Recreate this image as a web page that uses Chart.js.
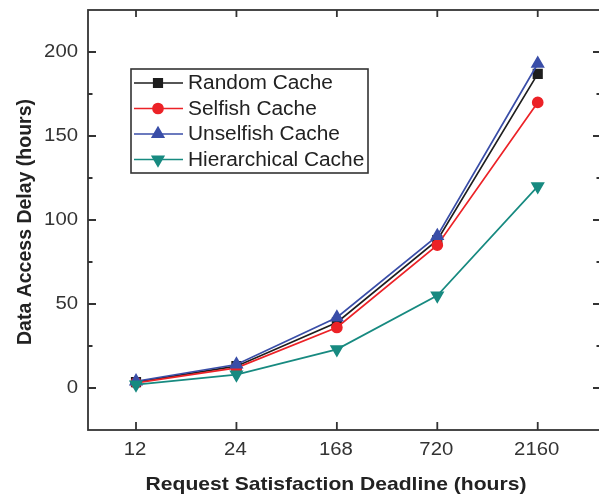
<!DOCTYPE html>
<html><head><meta charset="utf-8">
<script src="https://cdn.jsdelivr.net/npm/chart.js@4.4.1/dist/chart.umd.min.js"></script>
<style>
html,body{margin:0;padding:0;background:#fff;overflow:hidden;width:599px;height:498px}
canvas{display:block}
</style>
</head><body>
<canvas id="c" width="610" height="498"></canvas>
<script>
// Request satisfaction deadlines (hours) and measured access delay per caching scheme
const deadlines = ['12', '24', '168', '720', '2160'];
const randomCache = [3.5, 13, 39, 88, 187];
const selfishCache = [3, 12, 36, 85, 170];
const unselfishCache = [4, 14, 42, 90.5, 193];
const hierarchicalCache = [2, 8, 23, 55, 120];
const seriesNames = ['Random Cache', 'Selfish Cache', 'Unselfish Cache', 'Hierarchical Cache'];
const yTicks = [0, 50, 100, 150, 200];
const yMinorTicks = [25, 75, 125, 175];

const styles = [
  { color: '#1e1e1e', point: 'rect', radius: 6, rot: 0 },
  { color: '#ec2227', point: 'circle', radius: 5, rot: 0 },
  { color: '#3a4ea8', point: 'triangle', radius: 6.5, rot: 0 },
  { color: '#178a80', point: 'triangle', radius: 6.5, rot: 180 }
];
const values = [randomCache, selfishCache, unselfishCache, hierarchicalCache];

function stretchedText(ctx, text, x, y, sx, align, baseline) {
  ctx.save();
  ctx.translate(x, y);
  ctx.scale(sx, 1);
  ctx.textAlign = align;
  ctx.textBaseline = baseline;
  ctx.fillText(text, 0, 0);
  ctx.restore();
}

const frameAndText = {
  id: 'frameAndText',
  afterDraw(chart) {
    const ctx = chart.ctx;
    const a = chart.chartArea;
    const xs = chart.scales.x, ys = chart.scales.y;
    ctx.save();
    ctx.strokeStyle = '#333';
    ctx.lineWidth = 1.8;
    // frame
    ctx.strokeRect(a.left, a.top, a.right - a.left, a.bottom - a.top);
    ctx.beginPath();
    // category ticks, bottom and top
    deadlines.forEach((d, i) => {
      const px = xs.getPixelForValue(i);
      ctx.moveTo(px, a.bottom); ctx.lineTo(px, a.bottom - 8);
      ctx.moveTo(px, a.top); ctx.lineTo(px, a.top + 7);
    });
    // value ticks, left and right
    yTicks.forEach(v => {
      const py = ys.getPixelForValue(v);
      ctx.moveTo(a.left, py); ctx.lineTo(a.left + 8, py);
      ctx.moveTo(a.right, py); ctx.lineTo(a.right - 8, py);
    });
    yMinorTicks.forEach(v => {
      const py = ys.getPixelForValue(v);
      ctx.moveTo(a.left, py); ctx.lineTo(a.left + 4.5, py);
      ctx.moveTo(a.right, py); ctx.lineTo(a.right - 4.5, py);
    });
    ctx.stroke();

    // tick labels
    ctx.fillStyle = '#333';
    ctx.font = '18px "Liberation Sans", Arial, sans-serif';
    deadlines.forEach((d, i) => {
      stretchedText(ctx, d, xs.getPixelForValue(i) - 1, 450, 1.13, 'center', 'middle');
    });
    yTicks.forEach(v => {
      stretchedText(ctx, String(v), 78, ys.getPixelForValue(v), 1.13, 'right', 'middle');
    });

    // axis titles
    ctx.fillStyle = '#222';
    ctx.font = 'bold 18.5px "Liberation Sans", Arial, sans-serif';
    stretchedText(ctx, 'Request Satisfaction Deadline (hours)', 336, 490, 1.14, 'center', 'alphabetic');
    ctx.save();
    ctx.translate(31, 222);
    ctx.rotate(-Math.PI / 2);
    ctx.font = 'bold 19.5px "Liberation Sans", Arial, sans-serif';
    ctx.textAlign = 'center';
    ctx.textBaseline = 'alphabetic';
    ctx.fillText('Data Access Delay (hours)', 0, 0);
    ctx.restore();

    // legend box
    const lx = 131, ly = 69, lw = 237, lh = 104;
    ctx.fillStyle = '#fff';
    ctx.fillRect(lx, ly, lw, lh);
    ctx.strokeStyle = '#333';
    ctx.lineWidth = 1.6;
    ctx.strokeRect(lx, ly, lw, lh);
    seriesNames.forEach((name, i) => {
      const st = styles[i];
      const cy = 83 + i * 25.5;
      ctx.strokeStyle = st.color;
      ctx.lineWidth = 1.7;
      ctx.beginPath();
      ctx.moveTo(134, cy); ctx.lineTo(183, cy);
      ctx.stroke();
      ctx.fillStyle = st.color;
      Chart.helpers.drawPoint(ctx, { pointStyle: st.point, radius: st.radius, rotation: st.rot, borderWidth: 1 }, 158, cy);
      ctx.fillStyle = '#222';
      ctx.font = '19.5px "Liberation Sans", Arial, sans-serif';
      stretchedText(ctx, name, 188, cy + 1, 1.07, 'left', 'middle');
    });
    ctx.restore();
  }
};

const datasets = seriesNames.map((name, i) => ({
  label: name,
  data: values[i].map((v, k) => ({ x: k, y: v })),
  borderColor: styles[i].color,
  backgroundColor: styles[i].color,
  pointBackgroundColor: styles[i].color,
  pointBorderColor: styles[i].color,
  pointStyle: styles[i].point,
  pointRadius: styles[i].radius,
  pointRotation: styles[i].rot,
  borderWidth: 1.7,
  tension: 0,
  order: 3 - i
}));

new Chart(document.getElementById('c'), {
  type: 'line',
  data: { datasets },
  options: {
    responsive: false,
    animation: false,
    devicePixelRatio: 1,
    layout: { padding: { left: 0, top: 10, right: 9, bottom: 0 } },
    plugins: { legend: { display: false }, tooltip: { enabled: false } },
    scales: {
      x: {
        type: 'linear', min: -0.478, max: 4.63,
        grid: { display: false, drawTicks: false, tickLength: 0 },
        border: { display: false },
        ticks: { display: false },
        afterFit(s) { s.height = 68; }
      },
      y: {
        type: 'linear', min: -25, max: 225,
        grid: { display: false, drawTicks: false, tickLength: 0 },
        border: { display: false },
        ticks: { display: false },
        afterFit(s) { s.width = 88; }
      }
    }
  },
  plugins: [frameAndText]
});
</script>
</body></html>
